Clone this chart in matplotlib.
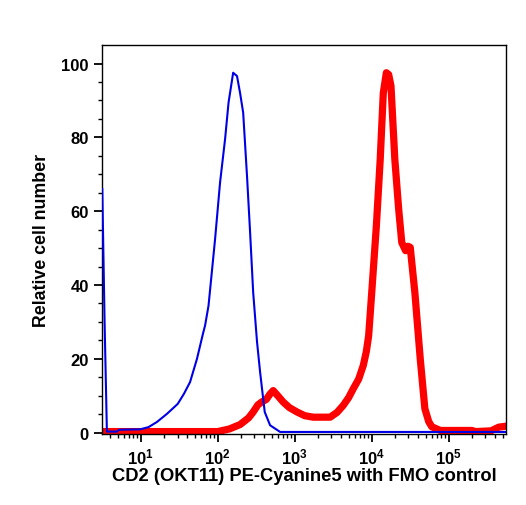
import numpy as np
import matplotlib
matplotlib.use("Agg")
import matplotlib.pyplot as plt
from matplotlib.ticker import LogLocator, FixedLocator, NullFormatter

plt.rcParams['font.family'] = ['Liberation Sans', 'DejaVu Sans']
plt.rcParams['font.weight'] = 'bold'
plt.rcParams['mathtext.fontset'] = 'custom'
plt.rcParams['mathtext.rm'] = 'Liberation Sans:bold'
plt.rcParams['mathtext.bf'] = 'Liberation Sans:bold'
plt.rcParams['mathtext.it'] = 'Liberation Sans:bold'
plt.rcParams['mathtext.default'] = 'bf'

# FMO control (blue): log10 intensity and relative cell number
blue_log_x = [0.50, 0.53, 0.56, 0.69, 0.72, 0.99, 1.10, 1.21, 1.34, 1.48, 1.56, 1.64, 1.73,
              1.81, 1.835, 1.88, 1.965, 2.03, 2.095, 2.14, 2.20, 2.25, 2.29, 2.33, 2.38,
              2.42, 2.46, 2.51, 2.55, 2.61, 2.68, 2.81, 5.76]
blue_y = [66, 30, 0.3, 0.3, 0.8, 0.9, 1.5, 2.9, 5.1, 7.8, 10.5, 13.7, 20,
          27, 29, 34.4, 52.4, 67.8, 79.5, 89.4, 97.5, 96.6, 92, 86.7, 69.5,
          54.3, 38, 24.6, 16.4, 5.6, 2.0, 0.2, 0.2]

# CD2 stained (red)
red_log_x = [0.50, 2.00, 2.15, 2.29, 2.40, 2.46, 2.52, 2.57, 2.63, 2.68, 2.72, 2.78, 2.85,
             2.93, 3.03, 3.13, 3.24, 3.46, 3.55, 3.63, 3.70, 3.76, 3.83, 3.89, 3.93, 3.96,
             4.00, 4.06, 4.11, 4.15, 4.19, 4.22, 4.25, 4.30, 4.35, 4.39, 4.44, 4.47, 4.50,
             4.56, 4.63, 4.69, 4.74, 4.78, 4.89, 5.30, 5.35, 5.55, 5.65, 5.76]
red_y = [0.3, 0.3, 1.0, 2.2, 4.0, 5.6, 7.5, 8.3, 9.0, 10.5, 11.4, 10.0, 8.3,
         6.8, 5.6, 4.6, 4.2, 4.2, 5.5, 7.4, 9.5, 11.9, 14.5, 18.2, 22, 26.3,
         38, 56, 74, 92, 97.5, 97, 93.9, 74, 60.5, 51.5, 49.3, 50.5, 50.2,
         38, 20, 6.5, 3.0, 1.6, 0.6, 0.6, 0.3, 0.5, 1.5, 1.8]

y_ticks = [0, 20, 40, 60, 80, 100]
x_ticks = [1e1, 1e2, 1e3, 1e4, 1e5]

fig = plt.figure(figsize=(5.26, 5.06), dpi=100)
ax = fig.add_axes([0.194, 0.140, 0.768, 0.769])

ax.plot(10 ** np.array(red_log_x), red_y, color='#FF0000', lw=5.2,
        solid_joinstyle='round', solid_capstyle='round', zorder=2)
ax.plot(10 ** np.array(blue_log_x), blue_y, color='#0000E6', lw=1.5, zorder=3)

ax.set_xscale('log')
ax.set_xlim(10 ** 0.497, 10 ** 5.744)
ax.set_ylim(-0.4, 105)

ax.xaxis.set_major_locator(FixedLocator(x_ticks))
ax.xaxis.set_minor_locator(LogLocator(base=10, subs=np.arange(2, 10)))
ax.xaxis.set_minor_formatter(NullFormatter())
ax.set_yticks(y_ticks)
ax.set_yticks(np.arange(0, 105, 5), minor=True)

ax.tick_params(axis='both', which='major', direction='out', length=6, width=1.3)
ax.tick_params(axis='y', which='major', labelsize=12)
ax.tick_params(axis='x', which='major', labelsize=12, pad=3)
ax.tick_params(axis='both', which='minor', direction='out', length=3, width=1.0)
for s in ax.spines.values():
    s.set_linewidth(1.0)

ax.set_xlabel('CD2 (OKT11) PE-Cyanine5 with FMO control', fontsize=13.2,
              fontweight='bold', labelpad=0)
ax.set_ylabel('Relative cell number', fontsize=12.8, fontweight='bold', labelpad=8)

fig.savefig('out.png', dpi=100)
